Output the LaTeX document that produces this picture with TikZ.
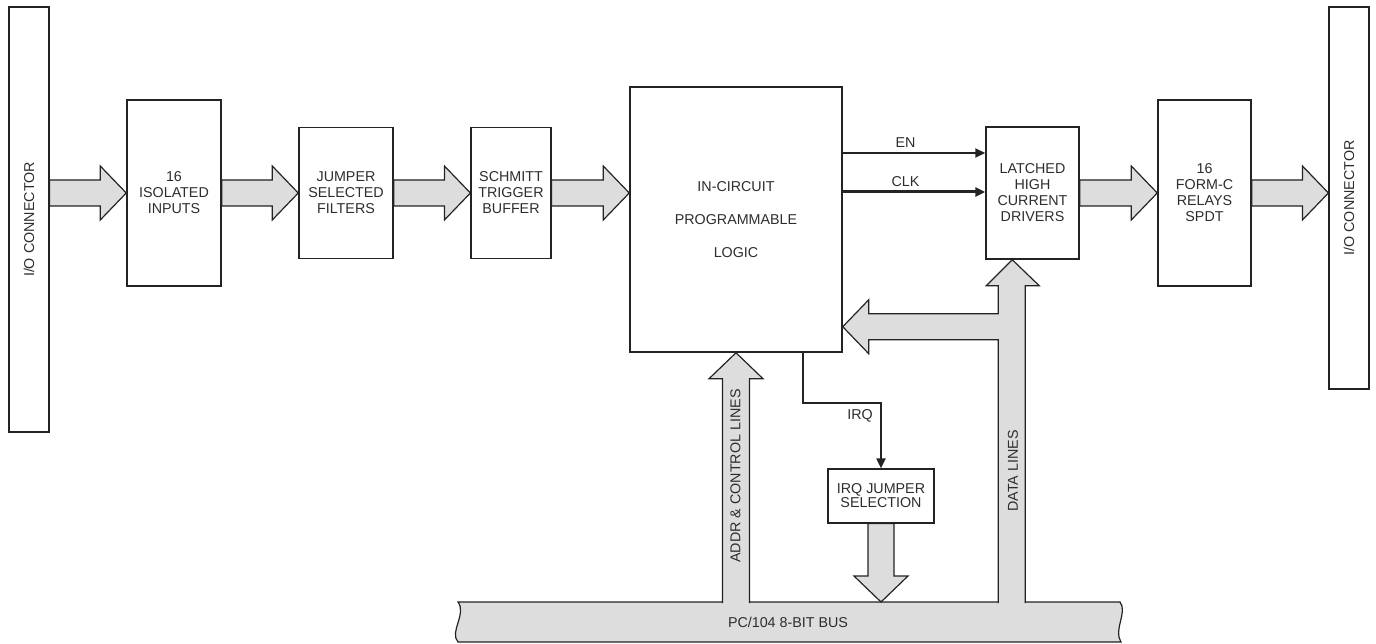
\documentclass[tikz,border=0pt]{standalone}
\usepackage{fontspec}
\setmainfont{Liberation Sans}
\usetikzlibrary{calc,arrows.meta}
\definecolor{busgray}{RGB}{221,221,221}
\definecolor{inkline}{RGB}{35,35,35}
\definecolor{inktext}{RGB}{45,45,45}
\newcommand{\blockfont}{\fontsize{14.3}{16}\selectfont}

\begin{document}
\begin{tikzpicture}[x=1pt,y=-1pt,
  block/.style={draw=inkline,line width=1.5pt,fill=white,inner sep=0pt,align=center,text=inktext,font=\blockfont},
  conn/.style={block,line width=1.2pt},
  lbl/.style={inner sep=0pt,text=inktext,font=\blockfont},
  fat/.style={draw=inkline,line width=1.2pt,fill=busgray,line join=miter},
  sig/.style={draw=inkline,line width=2pt,-{Triangle[length=10pt,width=9pt]}},
  fatright/.style={to path={let \p1=(\tikztostart), \p2=(\tikztotarget) in
    (\x1,\y1+13pt) -- (\x2-26pt,\y1+13pt) -- (\x2-26pt,\y1+27pt) -- (\x2,\y1)
    -- (\x2-26pt,\y1-27pt) -- (\x2-26pt,\y1-13pt) -- (\x1,\y1-13pt) -- cycle}},
  fatup/.style={to path={let \p1=(\tikztostart), \p2=(\tikztotarget) in
    (\x2-13.5pt,\y1-1pt) -- (\x2-13.5pt,\y2-26pt) -- (\x2-27pt,\y2-26pt) -- (\x2,\y2)
    -- (\x2+27pt,\y2-26pt) -- (\x2+13.5pt,\y2-26pt) -- (\x2+13.5pt,\y1-1pt)}},
  fatdown/.style={to path={let \p1=(\tikztostart), \p2=(\tikztotarget) in
    (\x1-13pt,\y1) -- (\x1-13pt,\y2+26pt) -- (\x1-27pt,\y2+26pt) -- (\x1,\y2)
    -- (\x1+27pt,\y2+26pt) -- (\x1+13pt,\y2+26pt) -- (\x1+13pt,\y1) -- cycle}}]
\useasboundingbox (0,0) rectangle (1376,644);

% blocks
\node[conn,minimum width=40pt,minimum height=425pt] (ioin) at (29,219.5) {};
\node[lbl,rotate=90] (ioinlbl) at (ioin) {I/O CONNECTOR};
\node[block,minimum width=94pt,minimum height=186pt] (iso) at (174,193) {16\\ISOLATED\\INPUTS};
\node[block,minimum width=94pt,minimum height=131pt] (filt) at (346,193) {JUMPER\\SELECTED\\FILTERS};
\node[block,minimum width=80pt,minimum height=131pt,line width=1.2pt] (schm) at (511,193) {SCHMITT\\TRIGGER\\BUFFER};
\node[block,minimum width=212pt,minimum height=265pt] (logic) at (736,219.5) {IN-CIRCUIT\\[17pt]PROGRAMMABLE\\[17pt]LOGIC};
\node[block,minimum width=93pt,minimum height=132pt] (latch) at (1032.5,193) {LATCHED\\HIGH\\CURRENT\\DRIVERS};
\node[block,minimum width=93pt,minimum height=186pt] (relay) at (1204.5,193) {16\\FORM-C\\RELAYS\\SPDT};
\node[conn,minimum width=40pt,minimum height=382pt] (ioout) at (1349,198) {};
\node[lbl,rotate=90] (iooutlbl) at (ioout) {I/O CONNECTOR};
\node[block,minimum width=106pt,minimum height=54pt,line width=1.2pt,
  font=\fontsize{14.3}{14}\selectfont] (irqsel) at (881,496) {IRQ JUMPER\\SELECTION};

% data path
\draw[fat] (ioin.east |- iso.west) to[fatright] (iso.west);
\draw[fat] (iso.east) to[fatright] (filt.west);
\draw[fat] (filt.east) to[fatright] (schm.west);
\draw[fat] (schm.east) to[fatright] (schm.east -| logic.west);
\draw[fat] (latch.east) to[fatright] (relay.west);
\draw[fat] (relay.east) to[fatright] (relay.east -| ioout.west);

% control signals
\coordinate (enrow) at (0,153);
\coordinate (clkrow) at (0,192);
\draw[sig] (logic.east |- enrow) -- node[lbl,pos=.44,above=4pt] (enlbl) {EN} (latch.west |- enrow);
\draw[sig,line width=3pt] (logic.east |- clkrow) -- node[lbl,pos=.44,above=4pt] (clklbl) {CLK} (latch.west |- clkrow);
\coordinate (irqkink) at (irqsel.north |- 0,403);
\draw[sig] ([xshift=-40pt]logic.south east) |- (irqkink) -- (irqsel.north);
\node[lbl,anchor=east] (irqlbl) at ([xshift=-8pt,yshift=-13pt]irqkink) {IRQ};

% PC/104 bus
\coordinate (busL) at (458,602);
\coordinate (busR) at (1120,602);
\coordinate (bustop) at (788,602);
\draw[fat] (busL) -- (busR) .. controls +(8,10) and +(-8,-12) .. ++(1,40)
  -- (458,642) .. controls +(-9,-10) and +(9,12) .. (busL) -- cycle;
\node[lbl] (buslbl) at (788,622) {PC/104 8-BIT BUS};

\draw[fat] (bustop) to[fatup] (logic.south);
\node[lbl,rotate=90] (addrlbl) at (735.5,476) {ADDR \& CONTROL LINES};
\draw[fat] (irqsel.south) to[fatdown] (irqsel.south |- bustop);

\coordinate (dtip) at ([xshift=27pt]latch.south west);
\coordinate (ltip) at ([yshift=26pt]logic.south east);
\draw[fat] let \p1=(dtip), \p2=(ltip), \p3=(bustop) in
  (\x1-14pt,\y3-1pt) -- (\x1-14pt,\y2-13pt) -- (\x2+26pt,\y2-13pt) -- (\x2+26pt,\y2-27pt)
  -- (\x2,\y2) -- (\x2+26pt,\y2+27pt) -- (\x2+26pt,\y2+13pt) -- (\x1-14pt,\y2+13pt)
  -- (\x1-14pt,\y1-26pt) -- (\x1-26pt,\y1-26pt) -- (\x1,\y1) -- (\x1+27pt,\y1-26pt)
  -- (\x1+13pt,\y1-26pt) -- (\x1+13pt,\y3-1pt);
\node[lbl,rotate=90] (datalbl) at (1013,471) {DATA LINES};
\end{tikzpicture}
\end{document}
